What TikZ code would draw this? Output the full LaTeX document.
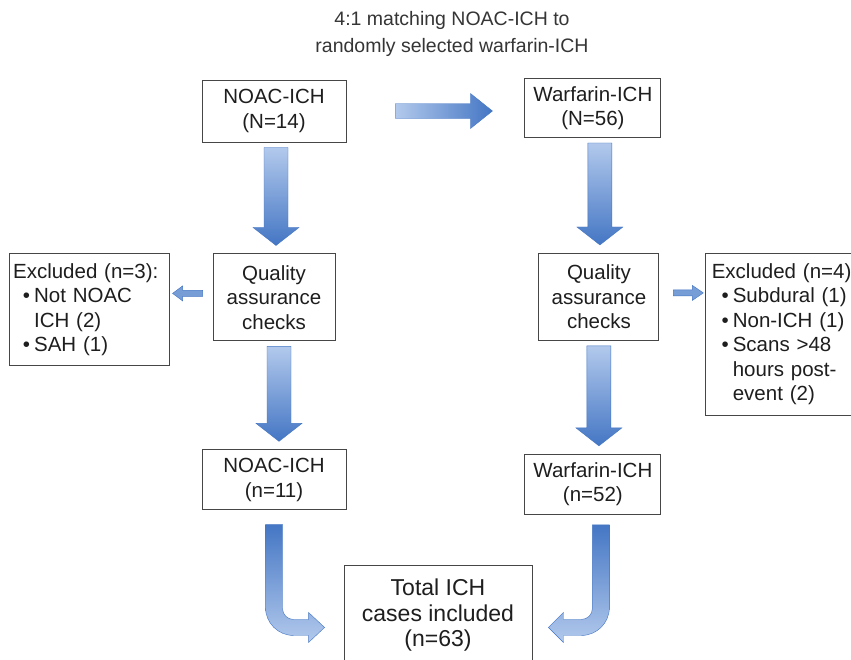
\documentclass[tikz,border=0pt]{standalone}
\usepackage{fontspec}
\setmainfont{Liberation Sans}
\usetikzlibrary{positioning,calc}

\definecolor{arrowlight}{RGB}{178,201,236}
\definecolor{arrowdark}{RGB}{68,118,196}
\definecolor{arrowmid}{RGB}{118,157,214}
\definecolor{boxline}{RGB}{70,70,70}
\definecolor{ink}{RGB}{30,30,30}

\newcommand{\bul}{\makebox[21pt][r]{\textbullet\hspace{4pt}}}
\newcommand{\cont}{\makebox[21pt]{}}

\tikzset{
  box/.style={draw=boxline, line width=0.9pt, fill=white, text=ink, align=center,
    inner sep=2pt, font=\fontsize{20.5}{24.5}\selectfont},
  exbox/.style={box, align=left, inner xsep=4pt, inner ysep=4pt},
  titletext/.style={text=ink!90, align=center, font=\fontsize{19.5}{27}\selectfont},
  vgrad/.style={top color=arrowlight, bottom color=arrowdark, draw=arrowdark, line width=0.4pt},
  hgrad/.style={left color=arrowlight, right color=arrowdark, draw=arrowdark, line width=0.4pt},
  bgrad/.style={top color=arrowdark, bottom color=arrowlight, draw=arrowdark, line width=0.4pt},
  side/.style={fill=arrowmid, draw=arrowdark, line width=0.4pt},
  % block arrow straight down, #1 = sideways offset
  dropto/.default=0,
  dropto/.style={to path={let \p1=($(\tikztostart.south)+(#1,0)$), \p2=(\tikztotarget.north) in
    (\x1-12pt,\y1-5pt) -- (\x1+12pt,\y1-5pt) -- (\x1+12pt,\y2+26pt) -- (\x1+23pt,\y2+26pt)
    -- (\x1,\y2+8pt) -- (\x1-23pt,\y2+26pt) -- (\x1-12pt,\y2+26pt) -- cycle}},
  crossto/.style={to path={let \p1=(\tikztostart.east), \p2=(\tikztotarget.west) in
    (\x1+49pt,\y1+7.5pt) -- (\x2-54pt,\y1+7.5pt) -- (\x2-54pt,\y1+17.5pt) -- (\x2-32pt,\y1)
    -- (\x2-54pt,\y1-17.5pt) -- (\x2-54pt,\y1-7.5pt) -- (\x1+49pt,\y1-7.5pt) -- cycle}},
  sideleft/.style={to path={let \p1=(\tikztostart.west), \p2=(\tikztotarget.east) in
    (\x1-10pt,\y1+7pt) -- (\x2+13pt,\y1+7pt) -- (\x2+13pt,\y1+11.5pt) -- (\x2+3pt,\y1+4pt)
    -- (\x2+13pt,\y1-3.5pt) -- (\x2+13pt,\y1+1pt) -- (\x1-10pt,\y1+1pt) -- cycle}},
  sideright/.style={to path={let \p1=(\tikztostart.east), \p2=(\tikztotarget.west) in
    (\x1+14pt,\y1+7pt) -- (\x2-13pt,\y1+7pt) -- (\x2-13pt,\y1+11.5pt) -- (\x2-2pt,\y1+4pt)
    -- (\x2-13pt,\y1-3.5pt) -- (\x2-13pt,\y1+1pt) -- (\x1+14pt,\y1+1pt) -- cycle}},
  % down, then round the corner into the side of the target
  curveright/.style={to path={let \p1=(\tikztostart.south), \p2=(\tikztotarget.west) in
    (\x1-8.5pt,\y1-14pt) -- (\x1-8.5pt,\y2+8pt) arc[start angle=180, end angle=270, radius=28pt]
    -- (\x2-35pt,\y2-20pt) -- (\x2-35pt,\y2-27pt) -- (\x2-19pt,\y2-12pt) -- (\x2-35pt,\y2+3pt)
    -- (\x2-35pt,\y2-4pt) -- (\x1+19.5pt,\y2-4pt) arc[start angle=270, end angle=180, radius=11pt]
    -- (\x1+8.5pt,\y1-14pt) -- cycle}},
  curveleft/.style={to path={let \p1=($(\tikztostart.south)+(8,0)$), \p2=(\tikztotarget.east) in
    (\x1+8.5pt,\y1-10pt) -- (\x1+8.5pt,\y2+8pt) arc[start angle=0, end angle=-90, radius=28pt]
    -- (\x2+31pt,\y2-20pt) -- (\x2+31pt,\y2-27pt) -- (\x2+16pt,\y2-12pt) -- (\x2+31pt,\y2+3pt)
    -- (\x2+31pt,\y2-4pt) -- (\x1-19.5pt,\y2-4pt) arc[start angle=270, end angle=360, radius=11pt]
    -- (\x1-8.5pt,\y1-10pt) -- cycle}}
}

\begin{document}
\begin{tikzpicture}[x=1pt, y=1pt]
    \fill[white] (0,0) rectangle (851,-659);
    \useasboundingbox (0,0) rectangle (851,-659);

    \node[titletext] (title) at (452,-34) {4:1 matching NOAC-ICH to\\randomly selected warfarin-ICH};

    \node[box, minimum width=144pt, minimum height=62pt] (noac) at (274,-111) {NOAC-ICH\\(N=14)};
    \node[box, minimum width=136pt, minimum height=59pt, right=178pt of noac, yshift=3pt] (warf) {Warfarin-ICH\\(N=56)};
    \node[box, minimum width=122pt, minimum height=87pt, below=111pt of noac] (qa1) {Quality\\assurance\\checks};
    \node[box, minimum width=120pt, minimum height=87pt, below=115pt of warf, xshift=6pt] (qa2) {Quality\\assurance\\checks};
    \node[exbox, text width=152pt, minimum height=112pt, left=43pt of qa1.north west, anchor=north east] (exc1)
      {Excluded (n=3):\\\bul Not NOAC\\\cont ICH (2)\\\bul SAH (1)};
    \node[exbox, inner xsep=6pt, text width=160pt, minimum height=162pt, right=46pt of qa2.north east, anchor=north west] (exc2)
      {Excluded (n=4):\\\bul Subdural (1)\\\bul Non-ICH (1)\\\bul Scans >48\\\cont hours post-\\\cont event (2)};
    \node[box, minimum width=144pt, minimum height=60pt, below=108pt of qa1] (n11) {NOAC-ICH\\(n=11)};
    \node[box, minimum width=136pt, minimum height=60pt, below=113pt of qa2, xshift=-6pt] (n52) {Warfarin-ICH\\(n=52)};
    \node[box, font=\fontsize{23}{25.5}\selectfont, minimum width=188pt, minimum height=100pt, anchor=north] (total) at (438,-565) {Total ICH\\cases included\\(n=63)};

    \path[hgrad] (noac) to[crossto] (warf);
    \path[vgrad] (noac) to[dropto=2] (qa1);
    \path[vgrad] (warf) to[dropto=7] (qa2);
    \path[vgrad] (qa1) to[dropto=5] (n11);
    \path[vgrad] (qa2) to[dropto] (n52);
    \path[side] (qa1) to[sideleft] (exc1);
    \path[side] (qa2) to[sideright] (exc2);
    \path[bgrad] (n11) to[curveright] (total);
    \path[bgrad] (n52) to[curveleft] (total);
\end{tikzpicture}
\end{document}
